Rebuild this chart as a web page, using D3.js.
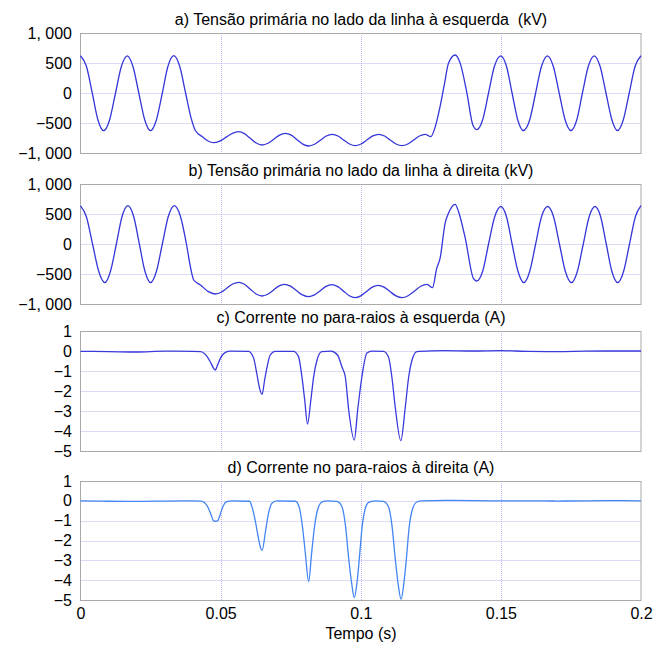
<!DOCTYPE html>
<html>
<head>
<meta charset="utf-8">
<script src="https://cdn.jsdelivr.net/npm/d3@7"></script>
<style>
  body { margin: 0; background: #fff; }
  text { font-family: Arial, "Liberation Sans", sans-serif; fill: #000; }
</style>
</head>
<body>
<script>
var width = 662,
    height = 646;

// tick values and labels
const timeTicks = [0, 0.05, 0.1, 0.15, 0.2];
const timeLabels = ["0", "0.05", "0.1", "0.15", "0.2"];
const voltTicks = [1000, 500, 0, -500, -1000];
const voltLabels = ["1, 000", "500", "0", "\u2212500", "\u22121, 000"];
const currTicks = [1, 0, -1, -2, -3, -4, -5];
const currLabels = ["1", "0", "\u22121", "\u22122", "\u22123", "\u22124", "\u22125"];

const titles = [
    "a) Tens\u00e3o prim\u00e1ria no lado da linha \u00e0 esquerda\u00a0 (kV)",
    "b) Tens\u00e3o prim\u00e1ria no lado da linha \u00e0 direita (kV)",
    "c) Corrente no para-raios \u00e0 esquerda (A)",
    "d) Corrente no para-raios \u00e0 direita (A)"
];

// [tempo (s), valor]
const voltLeft = [
    [0, 620], [0.0021, 445], [0.0042, 0], [0.0062, -445], [0.0083, -628], [0.0104, -445],
    [0.0125, 0], [0.0146, 445], [0.0167, 620], [0.0187, 445], [0.0208, 0], [0.0229, -445],
    [0.025, -628], [0.0271, -445], [0.0292, 0], [0.0312, 445], [0.0333, 622], [0.0354, 445],
    [0.0375, 0], [0.0396, -440], [0.041, -625], [0.0435, -730], [0.0455, -800], [0.0475, -828],
    [0.0497, -801], [0.052, -736], [0.0542, -672], [0.0564, -645], [0.0585, -677], [0.0606, -756],
    [0.0627, -834], [0.0648, -867], [0.0669, -838], [0.069, -770], [0.071, -701], [0.0731, -672],
    [0.0752, -703], [0.0773, -778], [0.0793, -852], [0.0814, -883], [0.0835, -854], [0.0856, -786],
    [0.0877, -717], [0.0898, -688], [0.0919, -716], [0.0939, -783], [0.096, -850], [0.098, -878],
    [0.1001, -850], [0.1022, -783], [0.1043, -716], [0.1064, -688], [0.1085, -716], [0.1105, -783],
    [0.1126, -850], [0.1147, -878], [0.1168, -850], [0.1189, -783], [0.1209, -716], [0.123, -688],
    [0.125, -728], [0.1266, -561], [0.1283, -228], [0.1299, 161], [0.1313, 494], [0.1337, 633],
    [0.1355, 494], [0.1379, -5], [0.14, -533], [0.1414, -610], [0.1435, -445], [0.1456, 0],
    [0.1477, 445], [0.15, 620], [0.152, 445], [0.154, 0], [0.156, -445], [0.158, -625],
    [0.1603, -445], [0.1624, 0], [0.1645, 445], [0.1666, 620], [0.1687, 445], [0.1708, 0],
    [0.1729, -445], [0.175, -625], [0.1771, -445], [0.1791, 0], [0.1812, 445], [0.1833, 620],
    [0.1854, 445], [0.1875, 0], [0.1896, -445], [0.1916, -625], [0.1937, -445], [0.1958, 0],
    [0.1979, 445], [0.2, 620]
];

const voltRight = [
    [0, 635], [0.0021, 455], [0.0043, 0], [0.0065, -455], [0.0087, -645], [0.0107, -455],
    [0.0128, 0], [0.0148, 455], [0.0169, 640], [0.019, 455], [0.021, 0], [0.023, -455],
    [0.025, -645], [0.0271, -455], [0.0292, 0], [0.0313, 455], [0.0335, 640], [0.0357, 455],
    [0.0378, 0], [0.0393, -400], [0.0404, -600], [0.0428, -683], [0.0455, -790], [0.0481, -833],
    [0.0502, -804], [0.0522, -736], [0.0543, -667], [0.0564, -638], [0.0585, -671], [0.0606, -753],
    [0.0627, -834], [0.0648, -867], [0.0668, -838], [0.0688, -770], [0.0707, -701], [0.0727, -672],
    [0.0749, -702], [0.077, -775], [0.0792, -848], [0.0814, -878], [0.0835, -849], [0.0856, -778],
    [0.0876, -707], [0.0897, -678], [0.0918, -710], [0.0939, -786], [0.0959, -862], [0.098, -894],
    [0.1, -864], [0.1021, -792], [0.1041, -719], [0.1061, -689], [0.1083, -719], [0.1104, -792],
    [0.1126, -864], [0.1147, -894], [0.1169, -862], [0.1192, -783], [0.1214, -705], [0.1236, -672],
    [0.1256, -728], [0.1271, -406], [0.1283, -239], [0.1301, 344], [0.1313, 511], [0.1337, 661],
    [0.1349, 539], [0.1373, 95], [0.1402, -572], [0.1414, -617], [0.1435, -455], [0.1456, 0],
    [0.1478, 455], [0.15, 625], [0.152, 455], [0.154, 0], [0.1561, -455], [0.1582, -645],
    [0.1603, -455], [0.1624, 0], [0.1645, 455], [0.1667, 625], [0.1688, 455], [0.1709, 0],
    [0.173, -455], [0.1752, -645], [0.1773, -455], [0.1794, 0], [0.1815, 455], [0.1836, 625],
    [0.1856, 455], [0.1876, 0], [0.1896, -455], [0.1917, -645], [0.1938, -455], [0.1959, 0],
    [0.198, 455], [0.2, 638]
];

const currLeft = [
    [0, -0.02], [0.01, -0.03], [0.02, -0.05], [0.03, -0.01], [0.04, -0.02], [0.0428, -0.03],
    [0.0452, -0.28], [0.0466, -0.62], [0.0475, -0.87], [0.0481, -0.95], [0.0487, -0.78],
    [0.0499, -0.37], [0.0517, -0.07], [0.0535, -0.01],
    [0.06, -0.02], [0.0618, -0.37], [0.063, -1.2], [0.0639, -1.87], [0.0648, -2.17],
    [0.0657, -1.45], [0.0666, -0.78], [0.0677, -0.2], [0.0695, -0.02],
    [0.076, -0.02], [0.0778, -0.28], [0.079, -1.28], [0.08, -2.45], [0.081, -3.65],
    [0.0822, -2.45], [0.0832, -1.28], [0.0844, -0.45], [0.0861, -0.03],
    [0.0894, -0.01], [0.0917, -0.2], [0.0933, -0.8], [0.0945, -1.3], [0.0957, -2.95],
    [0.0977, -4.45], [0.0989, -2.95], [0.1004, -1.3], [0.1022, -0.1], [0.104, -0.01],
    [0.1081, -0.02], [0.1099, -0.3], [0.1111, -1.3], [0.1123, -2.8], [0.1143, -4.48],
    [0.1159, -2.8], [0.1171, -1.3], [0.1182, -0.5], [0.12, -0.03],
    [0.125, 0.01], [0.13, 0.02], [0.14, 0.0], [0.15, 0.02], [0.16, -0.02], [0.17, -0.03],
    [0.18, -0.01], [0.19, 0.0], [0.2, 0.0]
];

const currRight = [
    [0, 0.0], [0.01, -0.02], [0.02, -0.03], [0.03, -0.01], [0.04, 0.0], [0.043, -0.01],
    [0.0452, -0.25], [0.0466, -0.7], [0.0474, -1.0], [0.0482, -1.03], [0.049, -1.0],
    [0.0498, -0.7], [0.0508, -0.3], [0.052, -0.05], [0.054, 0.0],
    [0.0603, -0.02], [0.0612, -0.3], [0.0624, -1.04], [0.0636, -1.97], [0.0642, -2.35],
    [0.0648, -2.5], [0.066, -1.55], [0.0671, -0.62], [0.0683, -0.12], [0.07, 0.0],
    [0.0767, -0.02], [0.078, -0.3], [0.0792, -1.3], [0.0802, -2.6], [0.0814, -4.07],
    [0.0825, -2.6], [0.0835, -1.3], [0.0846, -0.45], [0.0862, -0.05], [0.088, 0.0],
    [0.0915, -0.03], [0.0933, -0.3], [0.0945, -1.2], [0.0957, -2.9], [0.0968, -4.2],
    [0.0977, -4.88], [0.0986, -4.2], [0.0995, -2.9], [0.1005, -1.3], [0.1015, -0.45],
    [0.1028, -0.08], [0.105, 0.0],
    [0.1081, -0.03], [0.1099, -0.3], [0.1111, -1.2], [0.1123, -2.9], [0.1134, -4.25],
    [0.1144, -4.97], [0.1153, -4.25], [0.1163, -2.9], [0.1173, -1.3], [0.1184, -0.45],
    [0.12, -0.06], [0.122, 0.0],
    [0.13, 0.02], [0.14, 0.01], [0.15, 0.0], [0.16, 0.0], [0.17, -0.01], [0.18, 0.0],
    [0.19, 0.01], [0.2, 0.0]
];

const panels = [
    { title: titles[0], data: voltLeft,  top: 33,  h: 120, domain: [-1000, 1000], ticks: voltTicks, labels: voltLabels, color: "#3636d8" },
    { title: titles[1], data: voltRight, top: 184, h: 120, domain: [-1000, 1000], ticks: voltTicks, labels: voltLabels, color: "#3636d8" },
    { title: titles[2], data: currLeft,  top: 331, h: 120, domain: [-5, 1], ticks: currTicks, labels: currLabels, color: "#3a3adc" },
    { title: titles[3], data: currRight, top: 481, h: 119, domain: [-5, 1], ticks: currTicks, labels: currLabels, color: "#4386f2" }
];

const svg = d3.select("body")
    .append("svg")
    .attr("width", width)
    .attr("height", height);

const x = d3.scaleLinear()
    .domain([0, 0.2])
    .range([80.5, 641]);

panels.forEach(function (p, i) {
    var y = d3.scaleLinear()
        .domain(p.domain)
        .range([p.top + p.h, p.top]);

    var g = svg.append("g");

    // grid
    g.selectAll(".hgrid")
        .data(p.ticks.slice(1, -1))
        .enter().append("line")
        .attr("x1", x(0)).attr("x2", x(0.2))
        .attr("y1", function (d) { return Math.round(y(d)) + 0.5; })
        .attr("y2", function (d) { return Math.round(y(d)) + 0.5; })
        .style("stroke", "#b9b9f2")
        .style("stroke-dasharray", "1,1");

    g.selectAll(".vgrid")
        .data(timeTicks.slice(1, -1))
        .enter().append("line")
        .attr("x1", function (d) { return Math.round(x(d)) + 0.5; })
        .attr("x2", function (d) { return Math.round(x(d)) + 0.5; })
        .attr("y1", p.top).attr("y2", p.top + p.h)
        .style("stroke", "#b9b9f2")
        .style("stroke-dasharray", "1,1");

    // frame
    g.append("rect")
        .attr("x", 80.5)
        .attr("y", p.top + 0.5)
        .attr("width", 560.5)
        .attr("height", p.h)
        .style("fill", "none")
        .style("stroke", "#a9a9a9");

    // curve
    var line = d3.line()
        .x(function (d) { return x(d[0]); })
        .y(function (d) { return y(d[1]); })
        .curve(d3.curveMonotoneX);

    g.append("path")
        .datum(p.data)
        .attr("d", line)
        .style("fill", "none")
        .style("stroke", p.color)
        .style("stroke-width", 1.3);

    // y axis
    var yAxis = d3.axisLeft(y)
        .tickValues(p.ticks)
        .tickFormat(function (d, k) { return p.labels[k]; })
        .tickSize(0)
        .tickPadding(0);

    var ya = svg.append("g")
        .attr("transform", "translate(72,0)")
        .call(yAxis);
    ya.select(".domain").remove();
    ya.selectAll("text")
        .style("font-size", "16px")
        .style("font-family", "Arial, 'Liberation Sans', sans-serif");

    // title
    svg.append("text")
        .attr("x", 361)
        .attr("y", p.top - 8)
        .attr("text-anchor", "middle")
        .style("font-size", "16px")
        .text(p.title);

    if (i === panels.length - 1) {
        var xAxis = d3.axisBottom(x)
            .tickValues(timeTicks)
            .tickFormat(function (d, k) { return timeLabels[k]; })
            .tickSize(0)
            .tickPadding(0);

        var xa = svg.append("g")
            .attr("transform", "translate(0," + (p.top + p.h + 8) + ")")
            .call(xAxis);
        xa.select(".domain").remove();
        xa.selectAll("text")
            .style("font-size", "16px")
            .style("font-family", "Arial, 'Liberation Sans', sans-serif");

        svg.append("text")
            .attr("x", 361)
            .attr("y", 639)
            .attr("text-anchor", "middle")
            .style("font-size", "16px")
            .text("Tempo (s)");
    }
});
</script>
</body>
</html>
